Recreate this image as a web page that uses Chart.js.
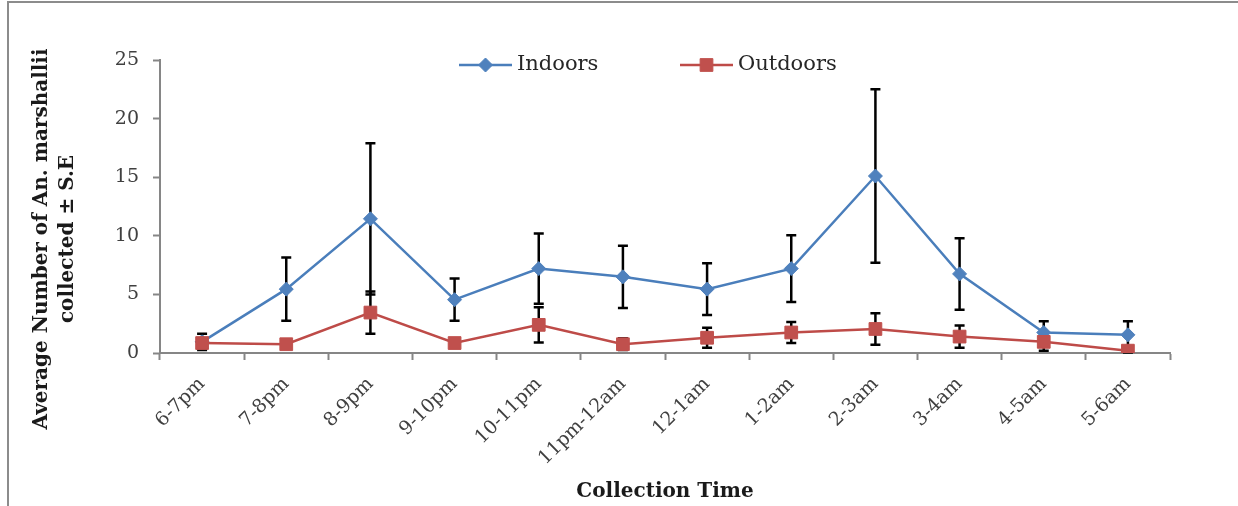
<!DOCTYPE html>
<html>
<head>
<meta charset="utf-8">
<script src="https://cdn.jsdelivr.net/npm/chart.js@4/dist/chart.umd.min.js"></script>
<style>
  html, body { margin: 0; padding: 0; background: #ffffff; }
  #wrap { position: relative; width: 1238px; height: 506px; }
  canvas { display: block; }
</style>
</head>
<body>
<div id="wrap"><canvas id="c" width="1238" height="506"></canvas></div>
<script>
// Hourly collection windows
const categories = ['6-7pm', '7-8pm', '8-9pm', '9-10pm', '10-11pm', '11pm-12am',
                    '12-1am', '1-2am', '2-3am', '3-4am', '4-5am', '5-6am'];

// Mean catch per window and its standard error
const indoors    = [0.95, 5.45, 11.45, 4.55, 7.2, 6.5, 5.45, 7.2, 15.1, 6.75, 1.75, 1.55];
const indoorSE   = [0.7, 2.7, 6.45, 1.8, 3.0, 2.65, 2.2, 2.85, 7.4, 3.05, 0.95, 1.15];
const outdoors   = [0.85, 0.75, 3.45, 0.85, 2.4, 0.75, 1.3, 1.75, 2.05, 1.4, 0.95, 0.2];
const outdoorSE  = [0.3, 0.3, 1.8, 0.3, 1.5, 0.5, 0.85, 0.9, 1.35, 0.95, 0.75, 0.15];

// Axis ticks
const yTicks = [0, 5, 10, 15, 20, 25];

const FONT = '"DejaVu Serif", "Liberation Serif", serif';
const AXIS_GREY = '#868686';

const seriesSE = { Indoors: indoorSE, Outdoors: outdoorSE };

// Grey frame around the figure
const framePlugin = {
  id: 'frame',
  beforeDraw(chart) {
    const ctx = chart.ctx;
    ctx.save();
    ctx.strokeStyle = '#8c8c8c';
    ctx.lineWidth = 2;
    ctx.beginPath();
    ctx.moveTo(8, chart.height + 2);
    ctx.lineTo(8, 2);
    ctx.lineTo(chart.width + 2, 2);
    ctx.stroke();
    ctx.restore();
  }
};

// Vertical ± S.E bars with caps
const errorBarPlugin = {
  id: 'errorBars',
  beforeDatasetsDraw(chart) {
    const ctx = chart.ctx;
    const yScale = chart.scales.y;
    ctx.save();
    ctx.strokeStyle = '#000000';
    ctx.lineWidth = 2.5;
    chart.data.datasets.forEach((ds, i) => {
      const se = seriesSE[ds.label];
      const meta = chart.getDatasetMeta(i);
      meta.data.forEach((pt, j) => {
        const v = ds.data[j];
        const top = yScale.getPixelForValue(v + se[j]);
        const bot = yScale.getPixelForValue(Math.max(0, v - se[j]));
        const x = pt.x;
        ctx.beginPath();
        ctx.moveTo(x, top); ctx.lineTo(x, bot);
        ctx.moveTo(x - 5, top); ctx.lineTo(x + 5, top);
        ctx.moveTo(x - 5, bot); ctx.lineTo(x + 5, bot);
        ctx.stroke();
      });
    });
    ctx.restore();
  }
};

// Line-and-marker legend plus the two axis titles
const labelsPlugin = {
  id: 'labels',
  afterDraw(chart) {
    const ctx = chart.ctx;
    const area = chart.chartArea;
    ctx.save();

    // legend
    const legendY = 65;
    const starts = [459, 680];
    ctx.font = '21px ' + FONT;
    ctx.textBaseline = 'middle';
    ctx.textAlign = 'left';
    chart.data.datasets.forEach((ds, i) => {
      const x0 = starts[i];
      ctx.strokeStyle = ds.borderColor;
      ctx.lineWidth = 2.5;
      ctx.beginPath();
      ctx.moveTo(x0, legendY);
      ctx.lineTo(x0 + 53, legendY);
      ctx.stroke();
      ctx.fillStyle = ds.pointBackgroundColor;
      ctx.strokeStyle = ds.pointBorderColor;
      ctx.lineWidth = 1;
      Chart.helpers.drawPoint(ctx, {
        pointStyle: ds.pointStyle, radius: ds.pointRadius, borderWidth: 1, rotation: 0
      }, x0 + 26.5, legendY);
      ctx.fillStyle = '#262626';
      ctx.fillText(ds.label, x0 + 58, legendY);
    });

    // y-axis title, two lines
    ctx.fillStyle = '#1a1a1a';
    ctx.font = 'bold 20px ' + FONT;
    ctx.textAlign = 'center';
    ctx.textBaseline = 'middle';
    ctx.save();
    ctx.translate(42, 239);
    ctx.rotate(-Math.PI / 2);
    ctx.fillText('Average Number of An. marshallii', 0, 0);
    ctx.fillText('collected \u00B1 S.E', 0, 26);
    ctx.restore();

    // x-axis title
    ctx.fillText('Collection Time', (area.left + area.right) / 2, 492);
    ctx.restore();
  }
};

new Chart(document.getElementById('c'), {
  type: 'line',
  data: {
    labels: categories,
    datasets: [
      {
        label: 'Indoors',
        data: indoors,
        borderColor: '#4A7EBB',
        borderWidth: 2.5,
        pointStyle: 'rectRot',
        pointRadius: 7,
        pointBackgroundColor: '#4F81BD',
        pointBorderColor: '#4F81BD',
        pointBorderWidth: 1,
        order: 1,
        tension: 0
      },
      {
        label: 'Outdoors',
        data: outdoors,
        borderColor: '#BE4B48',
        borderWidth: 2.5,
        pointStyle: 'rect',
        pointRadius: 9,
        pointBackgroundColor: '#C0504D',
        pointBorderColor: '#C0504D',
        pointBorderWidth: 1,
        order: 0,
        tension: 0
      }
    ]
  },
  options: {
    responsive: false,
    animation: false,
    devicePixelRatio: 1,
    layout: { padding: { left: 0, right: 68, top: 60, bottom: 0 } },
    plugins: {
      legend: { display: false },
      tooltip: { enabled: false }
    },
    scales: {
      x: {
        type: 'category',
        offset: true,
        grid: {
          offset: true,
          drawOnChartArea: false,
          drawTicks: true,
          tickLength: 7,
          tickWidth: 2,
          tickColor: AXIS_GREY
        },
        border: { color: AXIS_GREY, width: 2 },
        ticks: {
          font: { family: FONT, size: 19 },
          color: '#404040',
          minRotation: 45,
          maxRotation: 45,
          padding: 13,
          autoSkip: false
        },
        afterFit(scale) { scale.height = 153; }
      },
      y: {
        min: 0,
        max: 25,
        afterBuildTicks(scale) { scale.ticks = yTicks.map(v => ({ value: v })); },
        grid: {
          drawOnChartArea: false,
          drawTicks: true,
          tickLength: 7,
          tickWidth: 2,
          tickColor: AXIS_GREY
        },
        border: { color: AXIS_GREY, width: 2 },
        ticks: {
          font: { family: FONT, size: 19 },
          color: '#404040',
          padding: 14
        },
        afterFit(scale) { scale.width = 160; }
      }
    }
  },
  plugins: [framePlugin, errorBarPlugin, labelsPlugin]
});
</script>
</body>
</html>
